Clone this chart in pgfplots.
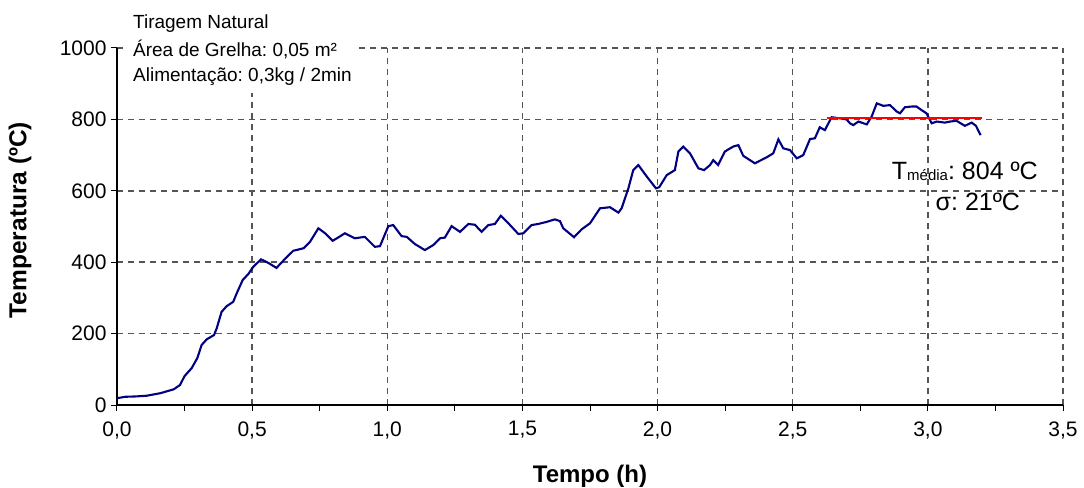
\documentclass[border=0pt]{standalone}
\usepackage{fontspec}
\setmainfont{Liberation Sans}
\usepackage{pgfplots}
\pgfplotsset{compat=1.18}
\definecolor{navyc}{RGB}{0,0,128}
\definecolor{gridc}{RGB}{85,85,85}
\begin{document}
\frenchspacing
\begin{tikzpicture}
\useasboundingbox (-117bp,-83bp) rectangle (967bp,405bp);
\begin{axis}[
 at={(0,0)}, anchor=south west,
 scale only axis, width=946bp, height=357bp,
 xmin=0, xmax=3.5, ymin=0, ymax=1000,
 axis x line=bottom, axis y line=left,
 axis line style={-, line width=1.4bp, black},
 xtick={0,0.5,1,1.5,2,2.5,3,3.5},
 xticklabels={{0,0},{0,5},{1,0},{1,5},{2,0},{2,5},{3,0},{3,5}},
 minor xtick={0.25,0.75,1.25,1.75,2.25,2.75,3.25},
 ytick={0,200,400,600,800,1000},
 /pgf/number format/1000 sep={},
 tick align=outside, major tick length=6bp, minor tick length=6bp,
 every tick/.style={black, line width=1bp},
 xmajorgrids, ymajorgrids,
 major grid style={gridc, dash pattern=on 6bp off 5bp, line width=1.5bp},
 /pgf/number format/assume math mode=true,
 tick label style={font=\fontsize{21bp}{25bp}\selectfont},
 xticklabel style={yshift=-7bp},
 yticklabel style={xshift=-1bp},
 xlabel={Tempo (h)},
 ylabel={Temperatura (ºC)},
 xlabel style={font=\fontsize{24bp}{28bp}\selectfont\bfseries, at={(axis description cs:0.5,0)}, anchor=base, yshift=-77bp},
 ylabel style={font=\fontsize{24.5bp}{28bp}\selectfont\bfseries, at={(axis description cs:0,0.518)}, anchor=center, yshift=97bp},
 clip mode=individual,
]
\addplot[navyc, line width=2.1bp] table {
x y
0.000 19
0.03 23
0.07 24
0.11 26
0.16 33
0.21 44
0.233 56
0.25 81
0.276 103
0.297 131
0.313 168
0.332 184
0.359 196
0.369 215
0.387 261
0.406 277
0.43 289
0.443 313
0.465 350
0.486 367
0.504 387
0.533 408
0.56 398
0.59 384
0.62 408
0.652 432
0.69 439
0.714 457
0.745 495
0.77 481
0.798 460
0.82 470
0.843 481
0.88 467
0.917 471
0.954 443
0.973 445
1.004 501
1.022 504
1.053 473
1.072 471
1.102 451
1.139 434
1.17 448
1.195 467
1.213 469
1.238 501
1.269 485
1.3 507
1.324 505
1.349 485
1.374 504
1.398 507
1.42 530
1.448 509
1.485 479
1.503 481
1.534 504
1.558 507
1.59 513
1.62 520
1.639 515
1.651 495
1.691 470
1.719 492
1.75 509
1.787 551
1.824 554
1.855 539
1.867 551
1.892 607
1.91 658
1.929 672
1.96 640
1.994 607
2.006 610
2.034 644
2.064 658
2.077 710
2.095 724
2.12 705
2.151 663
2.172 658
2.194 672
2.206 686
2.224 672
2.249 710
2.28 724
2.299 728
2.317 698
2.36 677
2.404 694
2.428 705
2.447 744
2.465 719
2.49 714
2.515 691
2.539 700
2.564 745
2.582 747
2.6 778
2.619 770
2.632 789
2.644 806
2.675 803
2.699 800
2.712 789
2.724 784
2.743 794
2.774 786
2.792 808
2.811 845
2.835 838
2.86 840
2.885 822
2.897 817
2.915 834
2.94 836
2.958 836
2.977 826
2.995 817
3.014 789
3.033 794
3.063 791
3.082 794
3.106 796
3.137 782
3.162 791
3.178 782
3.195 756
};
\addplot[red, line width=2bp] coordinates {(2.625,804) (3.2,804)};
\fill[white] (axis cs:0.041,1112) rectangle (axis cs:0.892,874);
\node[anchor=base west, inner sep=0pt, font=\fontsize{19bp}{22bp}\selectfont] at (axis cs:0.059,1056) {Tiragem Natural};
\node[anchor=base west, inner sep=0pt, font=\fontsize{19bp}{22bp}\selectfont] at (axis cs:0.059,975) {Área de Grelha: 0,05 m²};
\node[anchor=base west, inner sep=0pt, font=\fontsize{19bp}{22bp}\selectfont] at (axis cs:0.059,905) {Alimentação: 0,3kg / 2min};
\node[anchor=base, inner sep=0pt, font=\fontsize{25bp}{30bp}\selectfont] at (axis cs:3.137,633) {T\raisebox{-1.5bp}{\fontsize{15bp}{18bp}\selectfont média}: 804 ºC};
\node[anchor=base, inner sep=0pt, font=\fontsize{25bp}{30bp}\selectfont] at (axis cs:3.185,546) {σ: 21ºC};
\end{axis}
\end{tikzpicture}
\end{document}
